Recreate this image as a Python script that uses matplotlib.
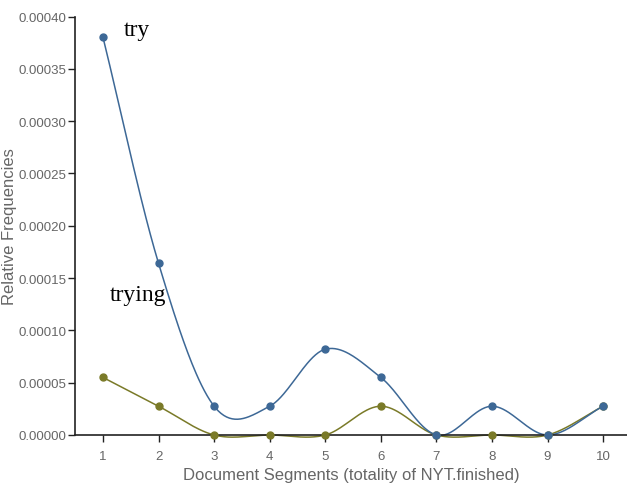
import numpy as np
import matplotlib
matplotlib.use("Agg")
import matplotlib.pyplot as plt

segments = [1, 2, 3, 4, 5, 6, 7, 8, 9, 10]
try_vals = [0.00038, 0.000164, 0.0000275, 0.0000275, 0.000082, 0.000055, 0.0, 0.0000275, 0.0, 0.0000275]
trying_vals = [0.000055, 0.0000275, 0.0, 0.0, 0.0, 0.0000275, 0.0, 0.0, 0.0, 0.0000275]
yticks = [0.0, 0.00005, 0.0001, 0.00015, 0.0002, 0.00025, 0.0003, 0.00035, 0.0004]


def catmull(xs, ys, n=40):
    xs = np.asarray(xs, float)
    ys = np.asarray(ys, float)
    m = np.zeros_like(ys)
    m[1:-1] = (ys[2:] - ys[:-2]) / (xs[2:] - xs[:-2])
    m[0] = (ys[1] - ys[0]) / (xs[1] - xs[0])
    m[-1] = (ys[-1] - ys[-2]) / (xs[-1] - xs[-2])
    ox, oy = [], []
    for i in range(len(xs) - 1):
        h = xs[i + 1] - xs[i]
        t = np.linspace(0, 1, n, endpoint=(i == len(xs) - 2))
        h00 = 2 * t**3 - 3 * t**2 + 1
        h10 = t**3 - 2 * t**2 + t
        h01 = -2 * t**3 + 3 * t**2
        h11 = t**3 - t**2
        ox.append(xs[i] + t * h)
        oy.append(h00 * ys[i] + h10 * h * m[i] + h01 * ys[i + 1] + h11 * h * m[i + 1])
    return np.concatenate(ox), np.concatenate(oy)


fig = plt.figure(figsize=(6.27, 4.85), dpi=100)
ax = fig.add_axes([75 / 627, 1 - 436 / 485, 1 - 75 / 627, (436 - 17.5) / 485])

blue = "#3d6896"
olive = "#7a7a28"

for vals, col in [(trying_vals, olive), (try_vals, blue)]:
    sx, sy = catmull(segments, vals)
    ax.plot(sx, sy, color=col, lw=1.1, zorder=2, clip_on=False)
    ax.plot(segments, vals, "o", color=col, ms=5, zorder=3, clip_on=False)

ax.set_xlim(0.496, 10.43)
ax.set_ylim(0, 0.0004)
ax.set_xticks(segments)
ax.set_yticks(yticks)
ax.set_yticklabels([f"{v:.5f}" for v in yticks])
for s in ["top", "right"]:
    ax.spines[s].set_visible(False)
for s in ["left", "bottom"]:
    ax.spines[s].set_color("#222222")
    ax.spines[s].set_linewidth(1.2)
ax.tick_params(axis="both", colors="#222222", labelcolor="#666666", labelsize=9.5, length=5, width=1)
ax.tick_params(axis="y", pad=1)
ax.tick_params(axis="x", pad=6)
ax.set_xlabel("Document Segments (totality of NYT.finished)", fontsize=12, color="#666666")
ax.set_ylabel("Relative Frequencies", fontsize=12, color="#666666")
ax.yaxis.set_label_coords(-65 / 552, 0.5)
ax.xaxis.set_label_coords(0.5, -(476 - 436) / 418.5, )
ax.xaxis.label.set_va("center")
ax.yaxis.label.set_va("center")
for lab in ax.get_xticklabels() + ax.get_yticklabels():
    lab.set_family("Liberation Sans")
ax.xaxis.label.set_family("Liberation Sans")
ax.yaxis.label.set_family("Liberation Sans")

ax.text(1.37, 0.000388, "try", fontsize=17, family="Liberation Serif", va="center", ha="left", color="black")
ax.text(1.125, 0.000134, "trying", fontsize=17, family="Liberation Serif", va="center", ha="left", color="black")

fig.savefig("out.png", dpi=100)
